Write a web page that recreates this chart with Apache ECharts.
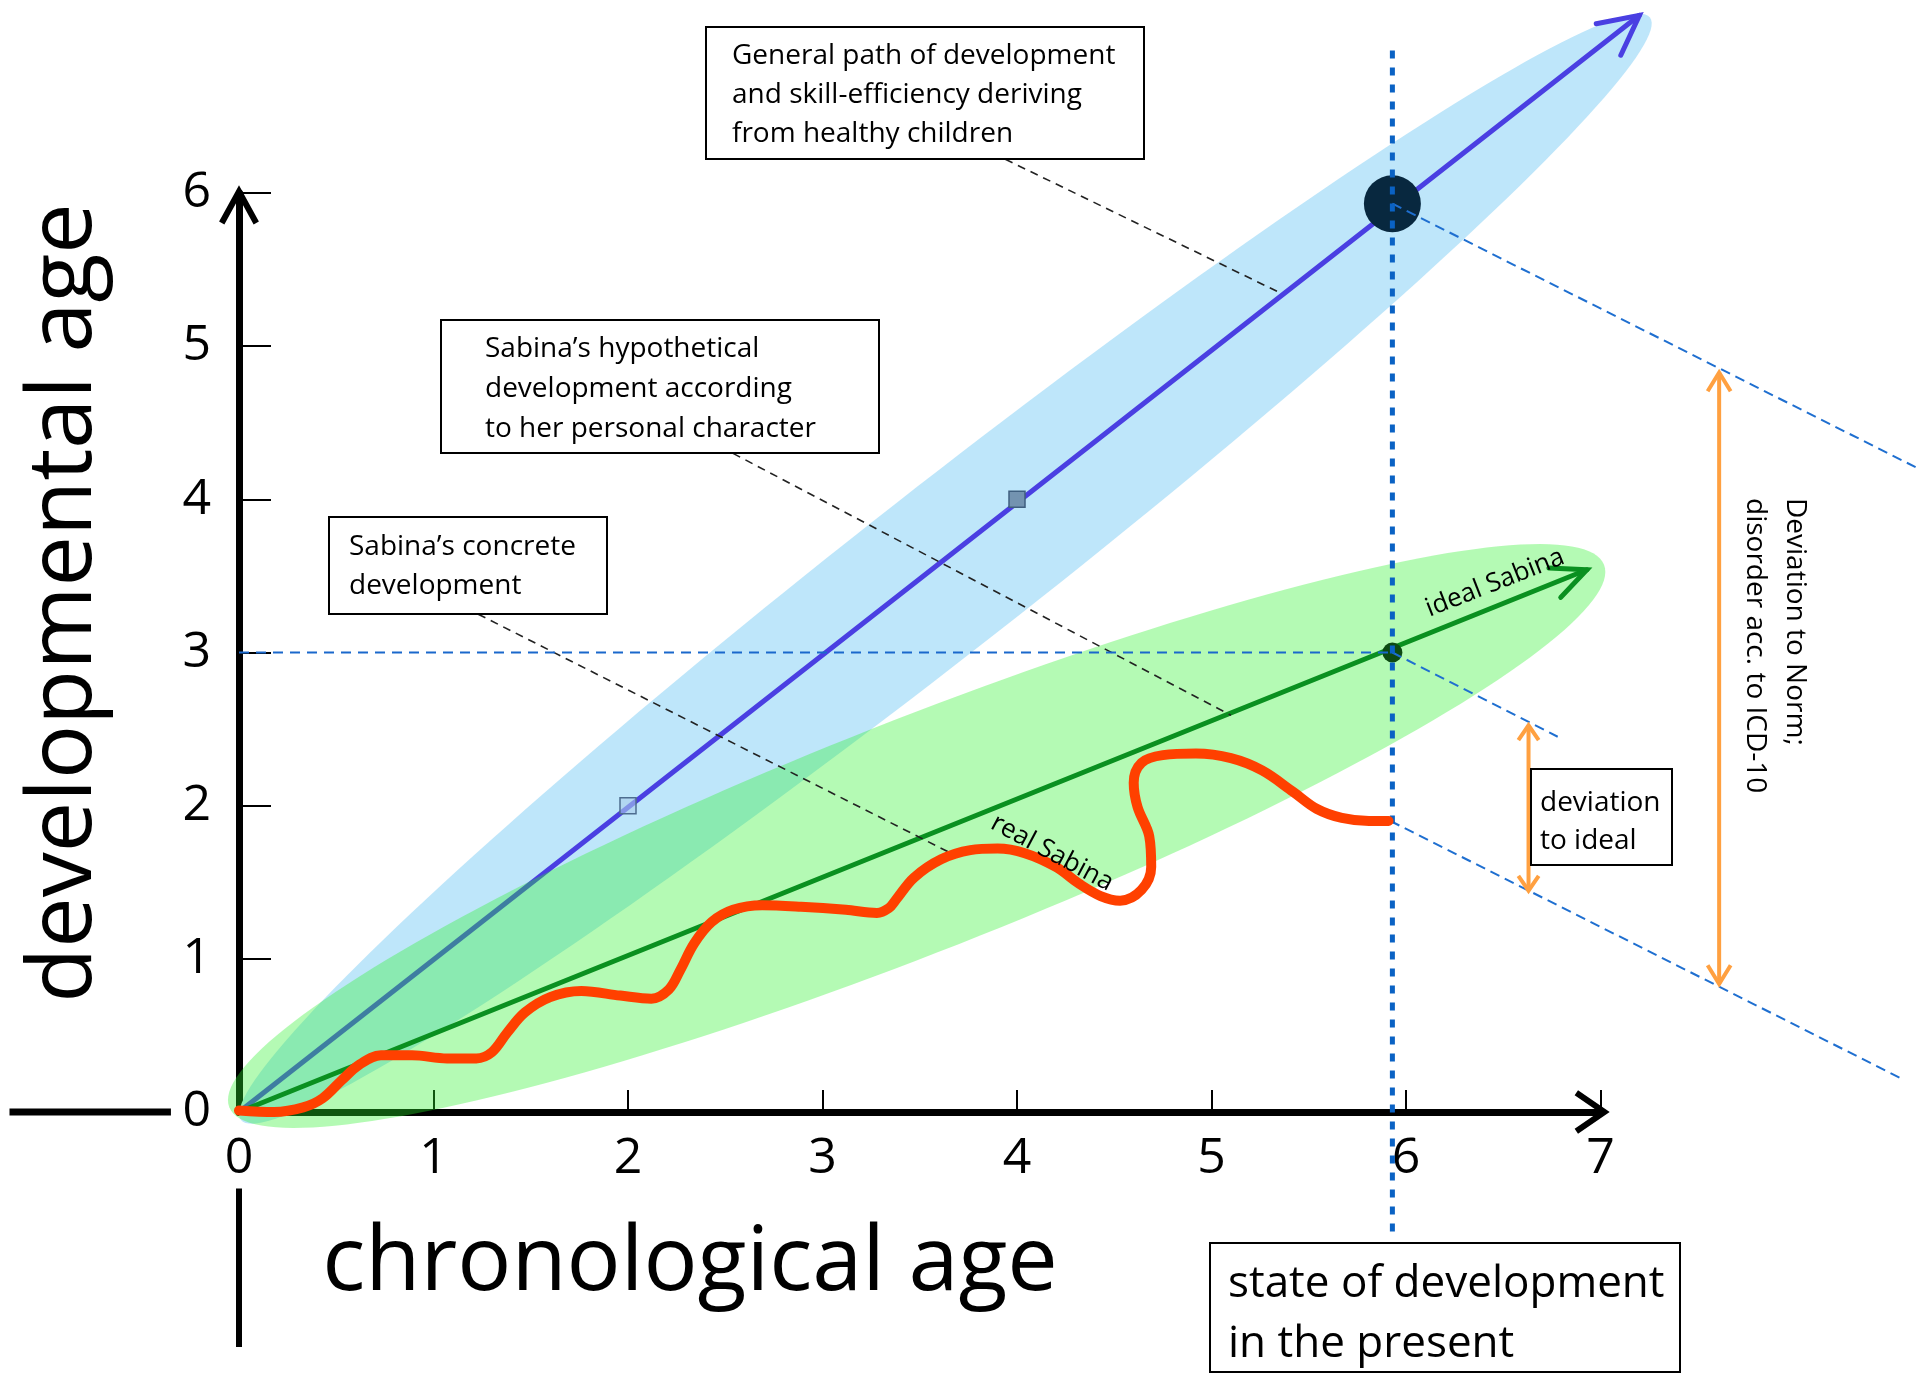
<!DOCTYPE html>
<html><head><meta charset="utf-8">
<script src="https://cdn.jsdelivr.net/npm/echarts@6/dist/echarts.min.js"></script>
<style>html,body{margin:0;padding:0;background:#fff}#c{width:1921px;height:1376px}</style>
</head><body><div id="c"></div>
<script>
// ---------- data (data units: years) ----------
const xTicks = [0, 1, 2, 3, 4, 5, 6, 7];
const yTicks = [0, 1, 2, 3, 4, 5, 6];
const healthyPath = [[0, 0], [7.2, 7.16]];
const idealPath = [[0, 0], [6.93, 3.54]];
const realSabina = [[0,0.01],[0.18,0.0],[0.33,0.03],[0.43,0.09],[0.53,0.21],[0.62,0.31],[0.73,0.37],[0.89,0.37],[1.07,0.35],[1.22,0.35],[1.30,0.39],[1.38,0.52],[1.47,0.65],[1.60,0.75],[1.76,0.79],[1.96,0.76],[2.12,0.74],[2.21,0.80],[2.27,0.93],[2.34,1.10],[2.43,1.24],[2.54,1.32],[2.69,1.35],[2.89,1.34],[3.12,1.32],[3.28,1.30],[3.34,1.33],[3.38,1.39],[3.47,1.53],[3.61,1.65],[3.76,1.71],[3.90,1.72],[4.04,1.69],[4.20,1.60],[4.32,1.49],[4.43,1.41],[4.53,1.38],[4.64,1.45],[4.69,1.60],[4.68,1.80],[4.62,1.99],[4.60,2.15],[4.64,2.28],[4.75,2.33],[4.92,2.34],[5.10,2.31],[5.26,2.23],[5.42,2.09],[5.54,1.98],[5.67,1.92],[5.81,1.90],[5.91,1.90]];
const healthyMarks = [[2, 2], [4, 4]];
const presentNorm = [5.93, 5.93];
const presentIdeal = [5.93, 3.0];
const healthyBand = [3.632, 3.547, 7.254, 7.146];   // centre x, y, tip x, y
const idealBand = [3.484, 1.802, 7.018, 3.573];
const presentLine = [[5.93, 6.93], [5.93, -0.82]];
const idealLevel = [[0, 3.0], [5.93, 3.0]];
const normDevTop = [[5.93, 5.93], [8.62, 4.21]];
const idealDevTop = [[5.93, 3.0], [6.78, 2.45]];
const realDev = [[5.92, 1.90], [8.56, 0.21]];
const leaderHealthy = [[3.94, 6.22], [5.35, 5.35]];
const leaderIdeal = [[2.54, 4.30], [5.1, 2.59]];
const leaderReal = [[1.23, 3.25], [3.66, 1.69]];
const normDeviation = [[7.61, 0.836], [7.61, 4.828]];
const idealDeviation = [[6.63, 1.445], [6.63, 2.525]];
const xAxisTip = [[6.6, 0], [7.02, 0]];
const yAxisTip = [[0, 5.6], [0, 6.01]];
const xAxisExt = [[-1.18, 0], [-0.35, 0]];
const yAxisExt = [[0, -0.50], [0, -1.535]];

// ---------- helpers ----------
const FONT = 'Open Sans';
function ellipseItem(halfWidth, fill) {
  return function (params, api) {
    const c = api.coord([api.value(0), api.value(1)]);
    const t = api.coord([api.value(2), api.value(3)]);
    const ux = t[0] - c[0], uy = t[1] - c[1];
    const a = Math.hypot(ux, uy);
    const nx = -uy / a * halfWidth, ny = ux / a * halfWidth;
    const pts = [];
    for (let i = 0; i < 200; i++) {
      const th = i / 200 * 2 * Math.PI;
      pts.push([c[0] + ux * Math.cos(th) + nx * Math.sin(th), c[1] + uy * Math.cos(th) + ny * Math.sin(th)]);
    }
    return { type: 'polygon', shape: { points: pts }, style: { fill: fill } };
  };
}
function arrowItem(o) {
  return function (params, api) {
    const p1 = api.coord([api.value(0), api.value(1)]);
    const p2 = api.coord([api.value(2), api.value(3)]);
    const st = { stroke: o.color, lineWidth: o.width, lineCap: o.cap || 'round', lineJoin: 'miter', fill: null };
    if (o.dash) st.lineDash = o.dash;
    const children = [];
    if (o.shaft) children.push({ type: 'line', shape: { x1: p1[0], y1: p1[1], x2: p2[0], y2: p2[1] }, style: st });
    const head = (tip, from) => {
      const ang = Math.atan2(from[1] - tip[1], from[0] - tip[0]);
      const a1 = ang + o.phi, a2 = ang - o.phi;
      children.push({ type: 'polyline', shape: { points: [
        [tip[0] + o.len * Math.cos(a1), tip[1] + o.len * Math.sin(a1)], tip,
        [tip[0] + o.len * Math.cos(a2), tip[1] + o.len * Math.sin(a2)]] }, style: st });
    };
    if (o.len) head(p2, p1);
    if (o.both) head(p1, p2);
    return { type: 'group', children: children };
  };
}
function arrowSeries(name, seg, o, z) {
  return { type: 'custom', name: name, z: z, silent: true, animation: false, clip: false,
    data: [[seg[0][0], seg[0][1], seg[1][0], seg[1][1]]], renderItem: arrowItem(o) };
}
function segSeries(name, seg, color, width, dash, z) {
  return arrowSeries(name, seg, { color: color, width: width, dash: dash, shaft: true, len: 0, cap: 'butt' }, z);
}
function box(x, y, w, h, tx, ty, text, size, lh) {
  return [
    { type: 'rect', z: 100, shape: { x: x, y: y, width: w, height: h }, style: { fill: '#fff', stroke: '#000', lineWidth: 2 } },
    { type: 'text', z: 101, x: tx, y: ty, style: { text: text, fontSize: size, fontFamily: FONT, fill: '#000',
      align: 'left', textAlign: 'left', verticalAlign: 'middle', textVerticalAlign: 'middle', lineHeight: lh } }
  ];
}
function label(x, y, rot, text, size, align) {
  return { type: 'text', z: 101, x: x, y: y, rotation: rot, style: { text: text, fontSize: size, fontFamily: FONT, fill: '#000',
    align: align || 'center', textAlign: align || 'center', verticalAlign: 'middle', textVerticalAlign: 'middle', lineHeight: 40 } };
}

const chart = echarts.init(document.getElementById('c'), null, { renderer: 'canvas' });
chart.setOption({
  animation: false,
  backgroundColor: '#fff',
  textStyle: { fontFamily: FONT },
  grid: { left: 239, right: 320.5, top: 193, bottom: 264, containLabel: false, outerBoundsMode: 'none' },
  xAxis: {
    type: 'value', min: xTicks[0], max: xTicks[xTicks.length - 1], interval: 1,
    axisLine: { show: true, onZero: false, lineStyle: { color: '#000', width: 7 } },
    axisTick: { show: true, inside: true, length: 22, lineStyle: { color: '#000', width: 2 } },
    axisLabel: { show: true, margin: 22, fontSize: 50, fontFamily: FONT, color: '#000',
      formatter: v => String(xTicks[Math.round(v)]) },
    splitLine: { show: false }
  },
  yAxis: {
    type: 'value', min: yTicks[0], max: yTicks[yTicks.length - 1], interval: 1,
    axisLine: { show: true, onZero: false, lineStyle: { color: '#000', width: 7 } },
    axisTick: { show: true, inside: true, length: 32, lineStyle: { color: '#000', width: 2 } },
    axisLabel: { show: true, margin: 28, fontSize: 50, fontFamily: FONT, color: '#000',
      formatter: v => String(yTicks[Math.round(v)]) },
    splitLine: { show: false }
  },
  series: [
    { type: 'custom', name: 'healthy band', z: 1, silent: true, animation: false, clip: false, data: [healthyBand], renderItem: ellipseItem(82, '#bee6fa') },
    arrowSeries('General path', healthyPath, { color: '#4a3fe2', width: 5, len: 44, phi: 0.47, shaft: true }, 2),
    { type: 'scatter', name: 'healthy marks', z: 3, silent: true, symbol: 'rect', symbolSize: 16, animation: false,
      data: healthyMarks.map((p, i) => ({ value: p, itemStyle: i === 0
        ? { color: 'rgba(170,205,235,0.6)', borderColor: '#4d6d8f', borderWidth: 1.5, opacity: 1 }
        : { color: '#7393b0', borderColor: '#3f5f7f', borderWidth: 1.5, opacity: 1 } })) },
    { type: 'custom', name: 'ideal band', z: 4, silent: true, animation: false, clip: false, data: [idealBand], renderItem: ellipseItem(116, 'rgba(43,241,43,0.354)') },
    arrowSeries('ideal Sabina', idealPath, { color: '#0a9020', width: 5, len: 38, phi: 0.43, shaft: true }, 5),
    { type: 'scatter', name: 'present norm', z: 6, silent: true, symbol: 'circle', symbolSize: 57, animation: false,
      itemStyle: { color: '#08283f', opacity: 1 }, data: [presentNorm] },
    { type: 'scatter', name: 'present ideal', z: 6, silent: true, symbol: 'circle', symbolSize: 20, animation: false,
      itemStyle: { color: '#0d4a12', opacity: 1 }, data: [presentIdeal] },
    segSeries('leader healthy', leaderHealthy, '#222', 1.6, [8, 6], 7),
    segSeries('leader ideal', leaderIdeal, '#222', 1.6, [8, 6], 7),
    segSeries('leader real', leaderReal, '#222', 1.6, [8, 6], 7),
    segSeries('ideal level', idealLevel, '#1a68cc', 2, [10, 7], 8),
    segSeries('norm deviation line', normDevTop, '#1f6fd0', 2, [10, 6], 8),
    segSeries('ideal deviation line', idealDevTop, '#1f6fd0', 2, [10, 6], 8),
    segSeries('real deviation line', realDev, '#1f6fd0', 2, [10, 6], 8),
    segSeries('present', presentLine, '#0a62c4', 5, [8, 9], 9),
    { type: 'line', name: 'real Sabina', data: realSabina, symbol: 'none', smooth: 0.35, clip: false, silent: true, z: 10,
      animation: false, lineStyle: { color: '#ff4000', width: 10, cap: 'round', join: 'round' } },
    arrowSeries('deviation to norm', normDeviation, { color: '#ffa040', width: 4, len: 22, phi: 0.55, shaft: true, both: true, cap: 'butt' }, 11),
    arrowSeries('deviation to ideal', idealDeviation, { color: '#ffa040', width: 4, len: 18, phi: 0.6, shaft: true, both: true, cap: 'butt' }, 11),
    arrowSeries('x axis head', xAxisTip, { color: '#000', width: 6, len: 34, phi: 0.6, shaft: false, cap: 'butt' }, 11),
    arrowSeries('y axis head', yAxisTip, { color: '#000', width: 6, len: 36, phi: 0.5, shaft: false, cap: 'butt' }, 11),
    segSeries('x axis extension', xAxisExt, '#000', 7, null, 11),
    segSeries('y axis extension', yAxisExt, '#000', 6, null, 11)
  ],
  graphic: { elements: [].concat(
    box(706, 27, 438, 132, 732, 95, 'General path of development\nand skill-efficiency deriving\nfrom healthy children', 28, 39),
    box(441, 320, 438, 133, 485, 389, 'Sabina\u2019s hypothetical\ndevelopment according\nto her personal character', 28, 40),
    box(329, 517, 278, 97, 349, 567, 'Sabina\u2019s concrete\ndevelopment', 28, 39),
    box(1531, 769, 141, 96, 1540, 822, 'deviation\nto ideal', 28, 38),
    box(1210, 1243, 470, 129, 1228, 1314, 'state of development\nin the present', 44, 60),
    [
      label(65, 603, Math.PI / 2, 'developmental age', 90),
      label(690, 1264, 0, 'chronological age', 90),
      label(1775, 498, -Math.PI / 2, 'Deviation to Norm;\ndisorder acc. to ICD-10', 28, 'left'),
      label(1495, 583, 0.375, 'ideal Sabina', 26),
      label(1052, 853, -0.49, 'real Sabina', 26)
    ]
  ) }
});
</script></body></html>
